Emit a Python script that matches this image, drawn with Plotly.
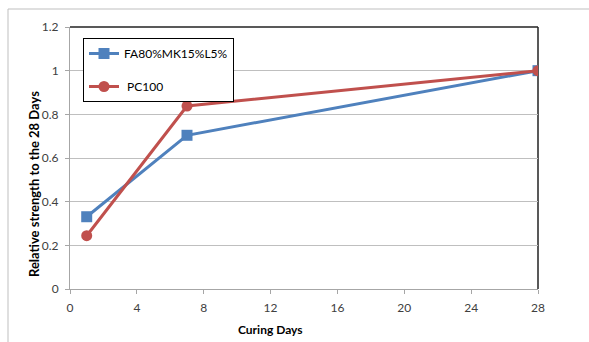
import plotly.graph_objects as go

days = [1, 7, 28]
fa_values = [0.331, 0.704, 1.0]
pc_values = [0.244, 0.838, 1.0]
series_names = ["FA80%MK15%L5%", " PC100"]
x_ticks = [0, 4, 8, 12, 16, 20, 24, 28]
y_ticks = [0, 0.2, 0.4, 0.6, 0.8, 1, 1.2]
y_tick_text = ["0", "0.2", "0.4", "0.6", "0.8", "1", "1.2"]
x_title = "Curing Days"
y_title = "Relative strength to the 28 Days"

blue = "#4F81BD"
red = "#C0504D"
font_family = "Lato, Open Sans, sans-serif"

PW, PH = 468, 262

fig = go.Figure()
fig.add_trace(go.Scatter(
    x=days, y=fa_values, name=series_names[0], mode="lines+markers",
    line=dict(color=blue, width=3), marker=dict(symbol="square", size=11, color=blue),
    legendgroup="a"))
fig.add_trace(go.Scatter(
    x=days, y=pc_values, name=series_names[1], mode="lines+markers",
    line=dict(color=red, width=3), marker=dict(symbol="circle", size=11, color=red),
    legendgroup="b"))

fig.update_layout(
    width=589, height=342,
    margin=dict(l=70, r=51, t=27, b=53),
    paper_bgcolor="white", plot_bgcolor="white",
    font=dict(family=font_family, size=11, color="#404040"),
    showlegend=True,
    legend=dict(x=13 / PW, y=1 - 11 / PH, xanchor="left", yanchor="top",
                bordercolor="#000000", borderwidth=1, bgcolor="white",
                font=dict(size=12, color="#000000"), tracegroupgap=14,
                itemwidth=30),
    xaxis=dict(range=[0, 28], tickvals=x_ticks, showgrid=False, zeroline=False,
               showline=True, linecolor="#A6A6A6", linewidth=1,
               ticks="outside", ticklen=4, tickcolor="#A6A6A6",
               ticklabelstandoff=4,
               tickfont=dict(size=12, color="#404040")),
    yaxis=dict(range=[0, 1.2], tickvals=y_ticks, ticktext=y_tick_text,
               showgrid=True, gridcolor="#BFBFBF", gridwidth=1, zeroline=False,
               showline=True, linecolor="#A6A6A6", linewidth=1,
               ticks="outside", ticklen=4, tickcolor="#A6A6A6",
               ticklabelstandoff=4,
               tickfont=dict(size=12, color="#404040")),
)

# axis titles as annotations (positioned as in the reference)
fig.add_annotation(text="<b>" + x_title + "</b>", xref="paper", yref="paper",
                   x=(270 - 70) / PW, y=-(329 - 289) / PH, showarrow=False,
                   font=dict(size=12, color="#000000"), xanchor="center", yanchor="middle")
fig.add_annotation(text="<b>" + y_title + "</b>", xref="paper", yref="paper",
                   x=-(70 - 34) / PW, y=(289 - 184) / PH, showarrow=False, textangle=-90,
                   font=dict(size=13, color="#000000"), xanchor="center", yanchor="middle")

# plot area top and right dark border
fig.add_shape(type="line", xref="paper", yref="paper", x0=0, x1=1, y0=1, y1=1,
              line=dict(color="#222222", width=1.5), layer="below")
fig.add_shape(type="line", xref="paper", yref="paper", x0=1, x1=1, y0=0, y1=1,
              line=dict(color="#222222", width=1.5), layer="below")
# outer chart frame (top and left)
fig.add_shape(type="line", xref="paper", yref="paper", x0=-62 / PW, x1=1.2, y0=1 + 18 / PH, y1=1 + 18 / PH,
              line=dict(color="#BFBFBF", width=1))
fig.add_shape(type="line", xref="paper", yref="paper", x0=-62 / PW, x1=-62 / PW, y0=-0.3, y1=1 + 18 / PH,
              line=dict(color="#BFBFBF", width=1))

fig.write_html("out.html")
